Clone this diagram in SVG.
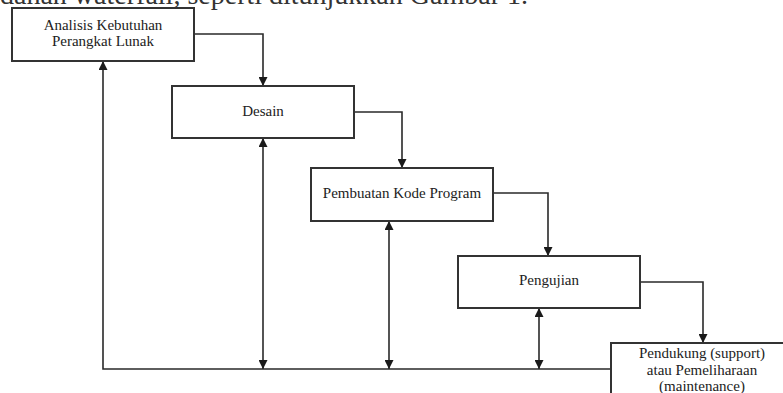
<svg xmlns="http://www.w3.org/2000/svg" width="783" height="393" viewBox="0 0 783 393">
  <style>
    .box { fill: #ffffff; stroke: #333333; stroke-width: 2; }
    .lbl { font-family: "Liberation Serif", "Times New Roman", serif; font-size: 15px; fill: #222222; text-anchor: middle; }
    .con { fill: none; stroke: #2a2a2a; stroke-width: 1.6; }
    .page { font-family: "Liberation Serif", "Times New Roman", serif; font-size: 28px; fill: #333333; }
  </style>
  <defs>
    <marker id="arr" viewBox="0 0 10 10" refX="10" refY="5" markerWidth="9" markerHeight="9" markerUnits="userSpaceOnUse" orient="auto-start-reverse">
      <path d="M0,0 L10,5 L0,10 Z" fill="#1a1a1a"/>
    </marker>
  </defs>
  <rect width="783" height="393" fill="#ffffff"/>
  <text class="page" x="0" y="4" textLength="528" lengthAdjust="spacing">dahan waterfall, seperti ditunjukkan Gambar 1.</text>

  <g id="connectors">
    <path class="con" d="M194,34 H263 V86" marker-end="url(#arr)"/>
    <path class="con" d="M354,112 H402 V168" marker-end="url(#arr)"/>
    <path class="con" d="M493,193 H548 V256" marker-end="url(#arr)"/>
    <path class="con" d="M640,282 H703 V343" marker-end="url(#arr)"/>
    <path class="con" d="M611,369 H103 V61" marker-end="url(#arr)"/>
    <path class="con" d="M263,138 V369" marker-start="url(#arr)" marker-end="url(#arr)"/>
    <path class="con" d="M389,221 V369" marker-start="url(#arr)" marker-end="url(#arr)"/>
    <path class="con" d="M539,308 V369" marker-start="url(#arr)" marker-end="url(#arr)"/>
  </g>

  <g id="analisis">
    <rect class="box" x="12" y="8" width="182" height="53"/>
    <text class="lbl" x="103" y="30">Analisis Kebutuhan</text>
    <text class="lbl" x="103" y="46">Perangkat Lunak</text>
  </g>
  <g id="desain">
    <rect class="box" x="172" y="86" width="182" height="52"/>
    <text class="lbl" x="263" y="116">Desain</text>
  </g>
  <g id="pembuatan">
    <rect class="box" x="311" y="168" width="182" height="53"/>
    <text class="lbl" x="402" y="198">Pembuatan Kode Program</text>
  </g>
  <g id="pengujian">
    <rect class="box" x="458" y="256" width="182" height="52"/>
    <text class="lbl" x="549" y="285">Pengujian</text>
  </g>
  <g id="pendukung">
    <rect class="box" x="611" y="343" width="190" height="70"/>
    <text class="lbl" x="702" y="358">Pendukung (support)</text>
    <text class="lbl" x="702" y="375">atau Pemeliharaan</text>
    <text class="lbl" x="702" y="391">(maintenance)</text>
  </g>
</svg>
